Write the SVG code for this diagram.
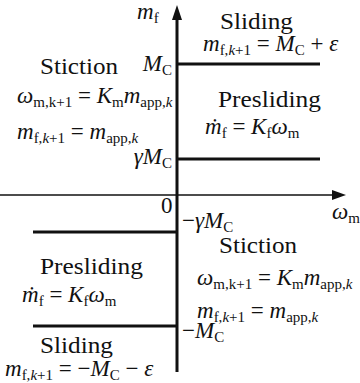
<svg xmlns="http://www.w3.org/2000/svg" width="360" height="383" viewBox="0 0 360 383">
<style>
text{font-family:"Liberation Serif","Times New Roman",serif;fill:#111;}
.w{font-size:24px;}
.m{font-size:23px;}
.i{font-style:italic;}
.s{font-size:15px;font-style:normal;}
.si{font-size:15px;font-style:italic;}
.b{stroke:#111;stroke-width:3;fill:none;}
.a{stroke:#111;stroke-width:1.3;fill:none;}
</style>
<rect width="360" height="383" fill="#fff"/>
<g id="connectors">
<line class="b" x1="177" y1="18" x2="177" y2="372"/>
<polygon points="177,5 172,20 182,20" fill="#111"/>
<line class="a" x1="0" y1="195" x2="334" y2="195"/>
<polygon points="346,195 332,190 332,200" fill="#111"/>
<line class="b" x1="177" y1="64" x2="320" y2="64"/>
<line class="b" x1="177" y1="159" x2="320" y2="159"/>
<line class="b" x1="33" y1="232" x2="177" y2="232"/>
<line class="b" x1="33" y1="326" x2="177" y2="326"/>
</g>
<g id="axis-labels">
<text class="m" x="137" y="19"><tspan class="i">m</tspan><tspan class="s" dy="4">f</tspan></text>
<text class="m" x="332" y="219"><tspan class="i">ω</tspan><tspan class="s" dy="4">m</tspan></text>
<text class="m" x="161" y="213">0</text>
<text class="m" x="172" y="71" text-anchor="end"><tspan class="i">M</tspan><tspan class="s" dy="4">C</tspan></text>
<text class="m" x="172" y="164" text-anchor="end"><tspan class="i">γM</tspan><tspan class="s" dy="4">C</tspan></text>
<text class="m" x="182" y="228">−<tspan class="i">γM</tspan><tspan class="s" dy="4">C</tspan></text>
<text class="m" x="182" y="338">−<tspan class="i">M</tspan><tspan class="s" dy="4">C</tspan></text>
</g>
<g id="sliding-top">
<text class="w" x="220" y="29" textLength="73" lengthAdjust="spacingAndGlyphs">Sliding</text>
<text class="m" x="203" y="51"><tspan class="i">m</tspan><tspan class="s" dy="4">f,</tspan><tspan class="si">k</tspan><tspan class="s">+1</tspan><tspan dy="-4"> = </tspan><tspan class="i">M</tspan><tspan class="s" dy="4">C</tspan><tspan dy="-4"> + </tspan><tspan class="i">ε</tspan></text>
</g>
<g id="stiction-top">
<text class="w" x="40" y="74" textLength="78" lengthAdjust="spacingAndGlyphs">Stiction</text>
<text class="m" x="17" y="103"><tspan class="i">ω</tspan><tspan class="s" dy="4">m,k+1</tspan><tspan dy="-4"> = </tspan><tspan class="i">K</tspan><tspan class="s" dy="4">m</tspan><tspan class="i" dy="-4">m</tspan><tspan class="s" dy="4">app,</tspan><tspan class="si">k</tspan></text>
<text class="m" x="17" y="139"><tspan class="i">m</tspan><tspan class="s" dy="4">f,</tspan><tspan class="si">k</tspan><tspan class="s">+1</tspan><tspan dy="-4"> = </tspan><tspan class="i">m</tspan><tspan class="s" dy="4">app,</tspan><tspan class="si">k</tspan></text>
</g>
<g id="presliding-top">
<text class="w" x="218" y="107" textLength="103" lengthAdjust="spacingAndGlyphs">Presliding</text>
<text class="m" x="205" y="134"><tspan class="i">ṁ</tspan><tspan class="s" dy="4">f</tspan><tspan dy="-4"> = </tspan><tspan class="i">K</tspan><tspan class="s" dy="4">f</tspan><tspan class="i" dy="-4">ω</tspan><tspan class="s" dy="4">m</tspan></text>
</g>
<g id="stiction-bottom">
<text class="w" x="219" y="253" textLength="78" lengthAdjust="spacingAndGlyphs">Stiction</text>
<text class="m" x="197" y="285"><tspan class="i">ω</tspan><tspan class="s" dy="4">m,k+1</tspan><tspan dy="-4"> = </tspan><tspan class="i">K</tspan><tspan class="s" dy="4">m</tspan><tspan class="i" dy="-4">m</tspan><tspan class="s" dy="4">app,</tspan><tspan class="si">k</tspan></text>
<text class="m" x="197" y="318"><tspan class="i">m</tspan><tspan class="s" dy="4">f,</tspan><tspan class="si">k</tspan><tspan class="s">+1</tspan><tspan dy="-4"> = </tspan><tspan class="i">m</tspan><tspan class="s" dy="4">app,</tspan><tspan class="si">k</tspan></text>
</g>
<g id="presliding-bottom">
<text class="w" x="40" y="274" textLength="103" lengthAdjust="spacingAndGlyphs">Presliding</text>
<text class="m" x="22" y="302"><tspan class="i">ṁ</tspan><tspan class="s" dy="4">f</tspan><tspan dy="-4"> = </tspan><tspan class="i">K</tspan><tspan class="s" dy="4">f</tspan><tspan class="i" dy="-4">ω</tspan><tspan class="s" dy="4">m</tspan></text>
</g>
<g id="sliding-bottom">
<text class="w" x="40" y="353" textLength="73" lengthAdjust="spacingAndGlyphs">Sliding</text>
<text class="m" x="5" y="376"><tspan class="i">m</tspan><tspan class="s" dy="4">f,</tspan><tspan class="si">k</tspan><tspan class="s">+1</tspan><tspan dy="-4"> = −</tspan><tspan class="i">M</tspan><tspan class="s" dy="4">C</tspan><tspan dy="-4"> − </tspan><tspan class="i">ε</tspan></text>
</g>
</svg>
